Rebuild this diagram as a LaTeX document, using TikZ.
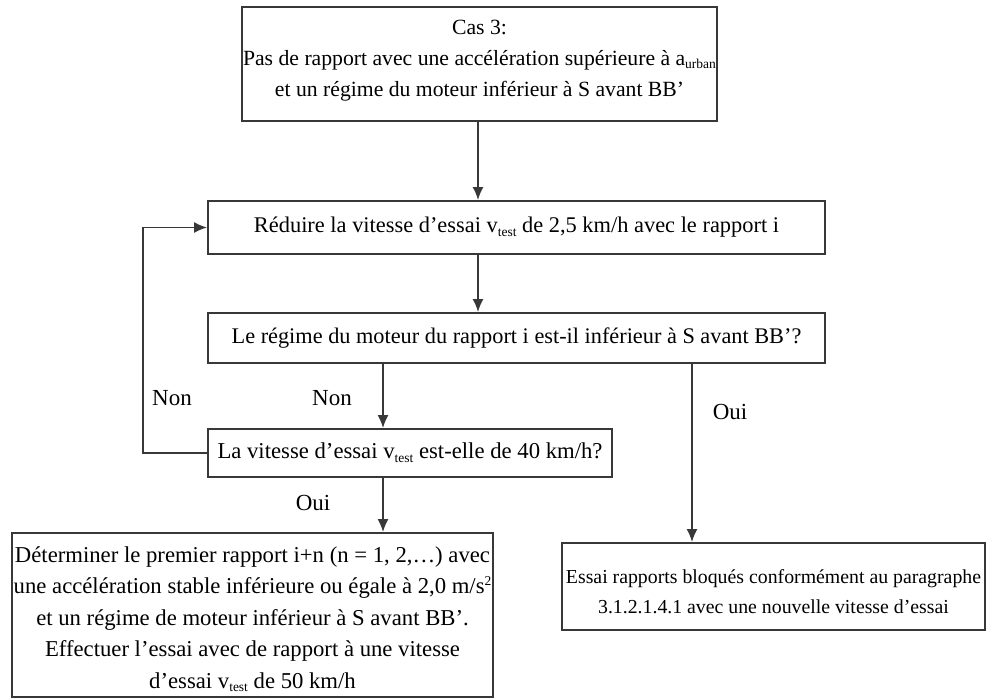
\documentclass[tikz,border=0pt]{standalone}
\usepackage{fontspec}
\setmainfont{Liberation Serif}
\usetikzlibrary{arrows.meta}
\newcommand\lsub[1]{\raisebox{-0.35ex}{\fontsize{13.5}{13.5}\selectfont #1}}
\newcommand\lsup[1]{\raisebox{0.75ex}{\fontsize{13.5}{13.5}\selectfont #1}}
\begin{document}
\begin{tikzpicture}[x=1pt,y=-1pt,
  box/.style={draw=black!78, line width=1.8pt, inner sep=0pt, align=center},
  conn/.style={draw=black!78, line width=1.8pt, -{Latex[length=13pt,width=11pt]}},
  lbl/.style={font=\fontsize{23}{25}\selectfont, inner sep=0pt}]
\useasboundingbox (0,0) rectangle (987,699);
\node[box, font=\fontsize{21.7}{31}\selectfont, minimum width=475pt, minimum height=114pt] (c3) at (479.5,64)
  {Cas 3:\\Pas de rapport avec une accélération supérieure à a\lsub{urban}\\et un régime du moteur inférieur à S avant BB’\rule[-12pt]{0pt}{12pt}};
\node[box, font=\fontsize{22.4}{30}\selectfont, minimum width=617pt, minimum height=53pt] (b2) at (516.5,227.5)
  {Réduire la vitesse d’essai v\lsub{test} de 2,5 km/h avec le rapport i};
\node[box, font=\fontsize{22.3}{30}\selectfont, minimum width=617pt, minimum height=50pt] (b3) at (516.5,338)
  {Le régime du moteur du rapport i est-il inférieur à S avant BB’?};
\node[box, font=\fontsize{22.7}{30}\selectfont, minimum width=404pt, minimum height=48pt] (b4) at (410,453)
  {La vitesse d’essai v\lsub{test} est-elle de 40 km/h?};
\node[box, font=\fontsize{22.7}{31.5}\selectfont, minimum width=481pt, minimum height=164pt] (b5) at (252.5,615)
  {\rule{0pt}{24pt}Déterminer le premier rapport i+n (n = 1, 2,…) avec\\une accélération stable inférieure ou égale à 2,0 m/s\lsup{2}\\et un régime de moteur inférieur à S avant BB’.\\Effectuer l’essai avec de rapport à une vitesse\\d’essai v\lsub{test} de 50 km/h};
\node[box, font=\fontsize{19.8}{30}\selectfont, minimum width=423pt, minimum height=87pt] (b6) at (773.5,586.5)
  {\rule{0pt}{25pt}Essai rapports bloqués conformément au paragraphe\\3.1.2.1.4.1 avec une nouvelle vitesse d’essai};
\coordinate (xmid) at (478,0);
\coordinate (xnon) at (383,0);
\coordinate (xoui) at (692,0);
\coordinate (xloop) at (143,0);
\draw[conn] (c3.south -| xmid) -- (b2.north -| xmid);
\draw[conn] (b2.south -| xmid) -- (b3.north -| xmid);
\draw[conn] (b3.south -| xnon) -- (b4.north -| xnon);
\draw[conn] (b4.south -| xnon) -- (b5.north -| xnon);
\draw[conn] (b3.south -| xoui) -- (b6.north -| xoui);
\draw[conn] (b4.west) -- (b4.west -| xloop) -- (b2.west -| xloop) -- (b2.west);
\node[lbl] (n1) at (172,398) {Non};
\node[lbl] (n2) at (332,398) {Non};
\node[lbl] (o1) at (313,503) {Oui};
\node[lbl] (o2) at (730,412) {Oui};
\end{tikzpicture}
\end{document}
